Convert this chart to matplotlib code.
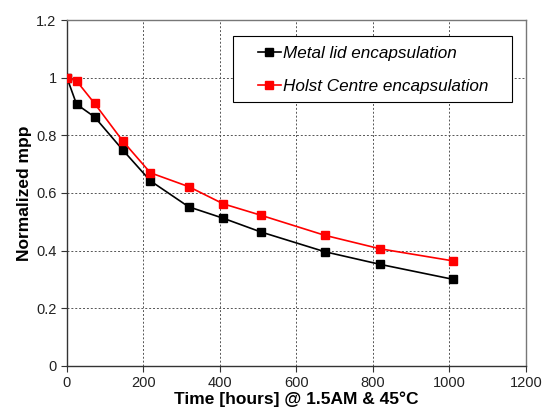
import matplotlib
matplotlib.use("Agg")
import matplotlib.pyplot as plt
from matplotlib import rcParams
from matplotlib.patches import Rectangle

rcParams.update({
    "font.family": ["Liberation Sans", "DejaVu Sans"],
    "font.size": 10,
})

# Daten
time_h = [0, 25, 72, 146, 218, 318, 409, 506, 674, 819, 1010]
metal_lid = [1.0, 0.908, 0.864, 0.749, 0.642, 0.552, 0.512, 0.465, 0.396, 0.352, 0.300]
holst = [1.0, 0.989, 0.911, 0.780, 0.670, 0.622, 0.562, 0.523, 0.453, 0.406, 0.364]

x_ticks = [0, 200, 400, 600, 800, 1000, 1200]
y_ticks = [0, 0.2, 0.4, 0.6, 0.8, 1.0, 1.2]
y_labels = ["0", "0.2", "0.4", "0.6", "0.8", "1", "1.2"]

fig = plt.figure(figsize=(5.49, 4.19), dpi=100)
ax = fig.add_axes([0.122, 0.127, 0.836, 0.825])

ax.plot(time_h, metal_lid, "s-", color="black", markersize=6, linewidth=1.2,
        label="Metal lid encapsulation", zorder=3)
ax.plot(time_h, holst, "s-", color="#ff0000", markersize=6, linewidth=1.2,
        label="Holst Centre encapsulation", zorder=3)

ax.set_xlim(0, 1200)
ax.set_ylim(0, 1.2)
ax.set_xticks(x_ticks)
ax.set_yticks(y_ticks)
ax.set_yticklabels(y_labels)
ax.tick_params(direction="out", length=4, width=0.8, colors="#333333",
               labelcolor="#222222", labelsize=10.5)
ax.grid(True, linestyle=(0, (2, 2)), color="#555555", linewidth=0.7)

for side in ("left", "bottom"):
    ax.spines[side].set_color("#333333")
    ax.spines[side].set_linewidth(1.0)
for side in ("top", "right"):
    ax.spines[side].set_color("#777777")
    ax.spines[side].set_linewidth(1.0)

ax.set_xlabel("Time [hours] @ 1.5AM & 45\u00b0C", fontweight="bold",
              fontsize=12.5, labelpad=1)
ax.set_ylabel("Normalized mpp", fontweight="bold", fontsize=12.5, labelpad=3)

# Legendenrahmen wie in Excel: links mehr Abstand als rechts
ax.add_patch(Rectangle((0.362, 0.763), 0.608, 0.191, transform=ax.transAxes,
                       facecolor="white", edgecolor="black", linewidth=0.8,
                       zorder=4))
leg = ax.legend(loc="upper left", bbox_to_anchor=(0.417, 0.925),
                borderaxespad=0, borderpad=0, frameon=False,
                prop={"style": "italic", "size": 12.3},
                handlelength=1.3, labelspacing=1.05, handletextpad=0.15)
leg.set_zorder(5)

fig.savefig("out.png", dpi=100)
